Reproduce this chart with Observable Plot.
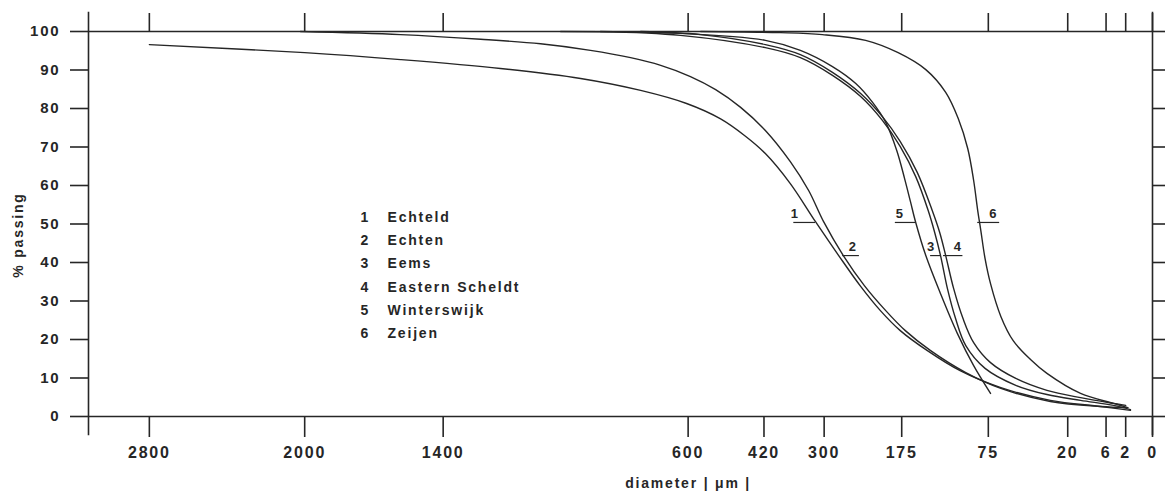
<!DOCTYPE html>
<html><head><meta charset="utf-8">
<script src="https://cdn.jsdelivr.net/npm/d3@7"></script>
<script src="https://cdn.jsdelivr.net/npm/@observablehq/plot@0.6"></script>
<style>
html,body{margin:0;padding:0;background:#fff;}
#chart svg text{letter-spacing:1.8px;}
</style></head><body><div id="chart"></div>
<script>
// Axis ticks
const xTicks = [2800, 2000, 1400, 600, 420, 300, 175, 75, 20, 6, 2, 0];
const xTickLabels = ["2800","2000","1400","600","420","300","175","75","20","6","2","0"];
const yTicks = [0, 10, 20, 30, 40, 50, 60, 70, 80, 90, 100];
const xDomain = [3150, 0];

// Grain size curves: diameter (µm) and % passing
const echteldD = [2800, 2000, 1573, 1183, 910, 729, 604, 519, 461, 417, 365, 316, 274, 237, 206, 177, 141, 103, 64, 29, 7.5, 1.35];
const echteldP = [96.6, 94.5, 92.7, 90.4, 87.8, 84.7, 81.3, 77.3, 72.8, 68.3, 60.5, 50.6, 41.8, 33.8, 27.5, 22.3, 17.1, 11.9, 7.5, 4.2, 2.6, 1.6];

const echtenD = [2020, 1573, 1256, 1042, 879, 758, 673, 594, 531, 472, 417, 365, 329, 301, 266, 231, 198, 170, 137, 97, 64, 29, 7.5, 1.7];
const echtenP = [100, 99.2, 98.0, 96.8, 95.1, 93.2, 91.2, 88.3, 84.9, 80.3, 74.3, 66.2, 58.7, 50.6, 41.8, 34.0, 27.5, 22.3, 17.1, 11.4, 7.3, 3.9, 2.6, 2.3];

const eemsD = [848, 620, 417, 345, 285, 237, 203, 177, 156, 140, 132, 125, 117, 108, 97, 78, 52, 31, 14.4, 4.2, 1.35];
const eemsP = [100, 99.0, 95.8, 93.2, 88.6, 83.1, 76.9, 70.1, 62.3, 53.5, 47.8, 41.8, 33.2, 25.5, 18.4, 12.5, 8.1, 5.7, 4.2, 2.9, 1.8];

const easternD = [729, 568, 417, 345, 285, 237, 203, 177, 154, 135, 126, 119, 110, 100, 89, 73, 52, 31, 14.4, 4.2, 2.0];
const easternP = [100, 99.2, 96.6, 94.0, 89.4, 83.9, 77.9, 71.4, 63.4, 53.5, 47.8, 41.8, 33.2, 25.5, 19.2, 14.0, 9.9, 6.8, 4.9, 3.4, 2.9];

const winterswijkD = [975, 620, 417, 345, 285, 245, 218, 198, 182, 171, 163, 156, 143, 125, 106, 89, 73];
const winterswijkP = [100, 99.5, 97.7, 95.1, 90.9, 86.5, 81.6, 76.4, 69.1, 61.8, 55.8, 50.4, 41.8, 31.9, 21.6, 13.2, 6.0];

const zeijenD = [568, 385, 303, 229, 180, 143, 119, 105, 95, 89, 85, 82, 78, 73, 64, 54, 41.4, 31, 14.4, 4.2, 1.7];
const zeijenP = [100, 99.7, 99.2, 97.7, 94.5, 90.1, 84.2, 77.4, 69.6, 61.3, 53.5, 48.3, 41.0, 34.5, 26.0, 19.7, 14.8, 11.2, 6.0, 3.4, 2.3];

// Legend
const legendNums = ["1", "2", "3", "4", "5", "6"];
const legendNames = ["Echteld", "Echten", "Eems", "Eastern Scheldt", "Winterswijk", "Zeijen"];

// Curve label leaders (diameter range and level)
const tagNums = ["1", "2", "3", "4", "5", "6"];
const tagFrom = [358, 267, 137, 121.5, 184, 85];
const tagTo = [316, 239, 124, 100, 156, 65];
const tagTextX = [355, 249, 136, 105, 177, 70];
const tagLevel = [50.4, 41.8, 41.8, 41.8, 50.4, 50.4];

const xLabel = "diameter | μm |";
const xLabelAt = 600;
const yLabel = "% passing";

const seriesD = [echteldD, echtenD, eemsD, easternD, winterswijkD, zeijenD];
const seriesP = [echteldP, echtenP, eemsP, easternP, winterswijkP, zeijenP];
const rows = seriesD.flatMap((D, s) => D.map((d, i) => ({name: legendNames[s], d, p: seriesP[s][i]})));
const tags = tagNums.map((t, i) => ({t, a: tagFrom[i], b: tagTo[i], tx: tagTextX[i], y: tagLevel[i]}));

const ink = "#262626";
const chart = Plot.plot({
  width: 1165, height: 495,
  marginLeft: 88, marginRight: 13, marginTop: 31, marginBottom: 79,
  x: {type: "sqrt", domain: xDomain},
  y: {domain: [0, 100]},
  style: {fontFamily: "'Liberation Sans', Arial, sans-serif", fontSize: "15px", fontWeight: "bold", color: ink, background: "#fff"},
  marks: [
    Plot.ruleY([0, 100], {stroke: ink, strokeWidth: 1.6}),
    Plot.ruleX([xDomain[0], xDomain[1]], {y1: -5, y2: 105, stroke: ink, strokeWidth: 1.6}),
    Plot.axisY({ticks: yTicks, anchor: "left", tickSize: 18, tickPadding: 10, label: null, strokeWidth: 1.6, fontSize: 15}),
    Plot.axisY({ticks: yTicks, anchor: "right", tickSize: 13, tickFormat: () => "", label: null, strokeWidth: 1.6}),
    Plot.axisX({ticks: xTicks, anchor: "top", tickSize: 19, tickFormat: () => "", label: null, strokeWidth: 1.6}),
    Plot.axisX({ticks: xTicks, anchor: "bottom", tickSize: 21, tickPadding: 9, label: null, strokeWidth: 1.6, fontSize: 16,
      tickFormat: (d) => xTickLabels[xTicks.indexOf(d)]}),
    Plot.line(rows, {x: "d", y: "p", z: "name", curve: "catmull-rom", stroke: ink, strokeWidth: 1.4}),
    Plot.ruleY(tags, {x1: "a", x2: "b", y: "y", stroke: ink, strokeWidth: 1.2}),
    Plot.text(tags, {x: "tx", y: "y", text: "t", dy: -9, fontSize: 13, fill: ink}),
    ...legendNums.map((n, i) => Plot.text([n], {frameAnchor: "top-left", dx: 360 - 88, dy: 217 - 31 + i * 23.2, textAnchor: "start", lineAnchor: "middle", fontSize: 14, fill: ink})),
    ...legendNames.map((n, i) => Plot.text([n], {frameAnchor: "top-left", dx: 387 - 88, dy: 217 - 31 + i * 23.2, textAnchor: "start", lineAnchor: "middle", fontSize: 14, fill: ink})),
    Plot.text([yLabel], {frameAnchor: "left", dx: -70, dy: 11, rotate: -90, textAnchor: "middle", fontSize: 14, fill: ink}),
    Plot.text([{d: xLabelAt, t: xLabel}], {x: "d", text: "t", frameAnchor: "bottom", dy: 71, fontSize: 14, fill: ink})
  ]
});
document.getElementById("chart").appendChild(chart);
</script>
</body></html>
